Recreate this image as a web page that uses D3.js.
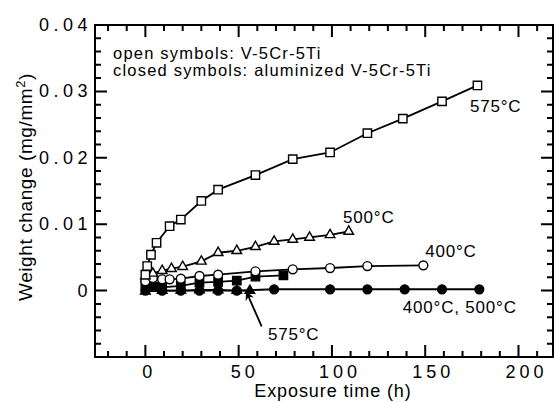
<!DOCTYPE html>
<html>
<head>
<meta charset="utf-8">
<script src="https://cdn.jsdelivr.net/npm/d3@7"></script>
<style>
  body { margin: 0; background: #fff; }
  text { font-family: "Liberation Sans", Arial, sans-serif; fill: #000; }
</style>
</head>
<body>
<svg id="chart" width="555" height="402"></svg>
<script>
// open symbols: V-5Cr-5Ti
const t575 = [0, 1, 3, 6, 13, 19, 30, 39, 59, 79, 99, 119, 138, 159, 178];
const v575 = [0.0024, 0.0037, 0.0054, 0.0072, 0.0097, 0.0107, 0.0135, 0.0152, 0.0174, 0.0198, 0.0208, 0.0237, 0.0259, 0.0285, 0.0309];

const t500 = [0, 4, 9, 14, 20, 30, 39, 49, 59, 69, 79, 88, 99, 109];
const v500 = [0.0022, 0.0026, 0.0030, 0.0033, 0.0036, 0.0044, 0.0057, 0.0060, 0.0066, 0.0074, 0.0077, 0.0080, 0.0084, 0.0089];

const t400 = [0, 4, 9, 13, 19, 29, 39, 59, 79, 99, 119, 149];
const v400 = [0.0014, 0.0019, 0.0017, 0.0017, 0.0018, 0.0022, 0.0024, 0.0029, 0.0032, 0.0034, 0.0037, 0.0038];

// closed symbols: aluminized V-5Cr-5Ti
const tAl575 = [0, 5, 9, 19, 29, 39, 49, 59, 74];
const vAl575 = [0.0009, 0.0006, 0.0005, 0.0007, 0.0012, 0.0013, 0.0015, 0.0021, 0.0023];

const tAl400 = [0, 9, 19, 29, 39, 49, 69, 99, 119, 139, 159, 179];
const vAl400 = [0, 0, 0, 0, 0, 0, 0.0002, 0.0002, 0.0002, 0.0002, 0.0002, 0.0002];

const tAl500 = [0, 9, 19, 29, 39, 49, 56];
const vAl500 = [-0.0001, 0, 0, 0.0001, 0.0001, 0, 0];

const xTicks = [0, 50, 100, 150, 200];
const yTicks = [0, 0.01, 0.02, 0.03, 0.04];

const svg = d3.select("#chart");
const mLeft = 95, mRight = 553, mTop = 25, mBottom = 357;

const x = d3.scaleLinear().domain([-27, 218.5]).range([mLeft, mRight]);
const y = d3.scaleLinear().domain([-0.01, 0.04]).range([mBottom, mTop]);

const xMinor = d3.range(-20, 219, 10).filter(d => d % 50 !== 0);
const yMinor = d3.range(-8, 40, 2).filter(d => d % 10 !== 0).map(d => d / 1000);

// frame
svg.append("rect")
    .attr("x", mLeft).attr("y", mTop)
    .attr("width", mRight - mLeft).attr("height", mBottom - mTop)
    .attr("fill", "none").attr("stroke", "#000").attr("stroke-width", 2);

// inward ticks on all four sides, built as one path
function tickPath() {
    const p = d3.path();
    const xt = xTicks.map(d => [d, 12]).concat(xMinor.map(d => [d, 6]));
    const ytk = yTicks.concat([-0.01]).map(d => [d, 12]).concat(yMinor.map(d => [d, 6]));
    xt.forEach(([d, len]) => {
        p.moveTo(x(d), mBottom); p.lineTo(x(d), mBottom - len);
        p.moveTo(x(d), mTop); p.lineTo(x(d), mTop + len);
    });
    ytk.forEach(([d, len]) => {
        p.moveTo(mLeft, y(d)); p.lineTo(mLeft + len, y(d));
        p.moveTo(mRight, y(d)); p.lineTo(mRight - len, y(d));
    });
    return p.toString();
}
svg.append("path")
    .attr("d", tickPath())
    .attr("fill", "none")
    .attr("stroke", "#000")
    .attr("stroke-width", 2);

// tick labels
svg.append("g").selectAll("text")
    .data(yTicks).enter().append("text")
    .attr("x", mLeft - 3)
    .attr("y", d => y(d) + 6)
    .attr("text-anchor", "end")
    .style("font-size", "18px")
    .style("letter-spacing", "4.5px")
    .text(d => d === 0 ? "0" : d.toFixed(2));

svg.append("g").selectAll("text")
    .data(xTicks).enter().append("text")
    .attr("x", d => x(d) + 2 + String(d).length * 2)
    .attr("y", 378)
    .attr("text-anchor", "middle")
    .style("font-size", "18px")
    .style("letter-spacing", "4px")
    .text(d => d);

// axis titles
svg.append("text")
    .attr("x", 333).attr("y", 397)
    .attr("text-anchor", "middle")
    .style("font-size", "18px")
    .style("letter-spacing", "0.9px")
    .text("Exposure time (h)");

const yt = svg.append("text")
    .attr("transform", `translate(32,187) rotate(-90)`)
    .attr("text-anchor", "middle")
    .style("font-size", "19px")
    .style("letter-spacing", "0.6px");
yt.append("tspan").text("Weight change (mg/mm");
yt.append("tspan").attr("dy", -7).style("font-size", "13px").text("2");
yt.append("tspan").attr("dy", 7).text(")");

// legend text
svg.append("text").attr("x", 113).attr("y", 59)
    .style("font-size", "16.5px")
    .style("letter-spacing", "1.2px")
    .text("open symbols: V-5Cr-5Ti");
svg.append("text").attr("x", 113).attr("y", 76)
    .style("font-size", "16.5px")
    .style("letter-spacing", "1.2px")
    .text("closed symbols: aluminized V-5Cr-5Ti");

const line = d3.line().x(d => x(d[0])).y(d => y(d[1]));
const zip = (a, b) => a.map((d, i) => [d, b[i]]);

const symSize = { square: 70, circle: 62, triangle: 40 };
function drawSeries(ts, vs, shape, filled) {
    const pts = zip(ts, vs);
    const type = shape === "square" ? d3.symbolSquare : shape === "circle" ? d3.symbolCircle : d3.symbolTriangle;
    svg.append("path")
        .datum(pts)
        .attr("d", line)
        .attr("fill", "none")
        .attr("stroke", "#000")
        .attr("stroke-width", 1.8);
    svg.append("g").selectAll("path")
        .data(pts).enter().append("path")
        .attr("transform", d => `translate(${x(d[0])},${y(d[1])})`)
        .attr("d", d3.symbol().type(type).size(symSize[shape]))
        .attr("fill", filled ? "#000" : "#fff")
        .attr("stroke", "#000")
        .attr("stroke-width", 1.4);
}

drawSeries(tAl500, vAl500, "triangle", true);
drawSeries(tAl400, vAl400, "circle", true);
drawSeries(tAl575, vAl575, "square", true);
drawSeries(t400, v400, "circle", false);
drawSeries(t500, v500, "triangle", false);
drawSeries(t575, v575, "square", false);

// series labels
const labels = [
    { t: 174, v: 0.0269, text: "575°C" },
    { t: 106, v: 0.0102, text: "500°C" },
    { t: 150, v: 0.0051, text: "400°C" },
    { t: 138, v: -0.0034, text: "400°C, 500°C" },
    { t: 65.7, v: -0.0074, text: "575°C" }
];
svg.append("g").selectAll("text")
    .data(labels).enter().append("text")
    .attr("x", d => x(d.t))
    .attr("y", d => y(d.v))
    .style("font-size", "17px")
    .style("letter-spacing", "0.8px")
    .text(d => d.text);

// arrow to aluminized 575°C
svg.append("defs").append("marker")
    .attr("id", "head")
    .attr("viewBox", "0 0 10 10")
    .attr("refX", 9).attr("refY", 5)
    .attr("markerWidth", 9).attr("markerHeight", 9)
    .attr("markerUnits", "userSpaceOnUse")
    .attr("orient", "auto")
    .append("path").attr("d", "M0,0 L10,5 L0,10 L3,5 z").attr("fill", "#000");

svg.append("line")
    .attr("x1", x(62.3)).attr("y1", y(-0.0054))
    .attr("x2", x(54.2)).attr("y2", y(-0.0002))
    .attr("stroke", "#000").attr("stroke-width", 1.8)
    .attr("marker-end", "url(#head)");
</script>
</body>
</html>
